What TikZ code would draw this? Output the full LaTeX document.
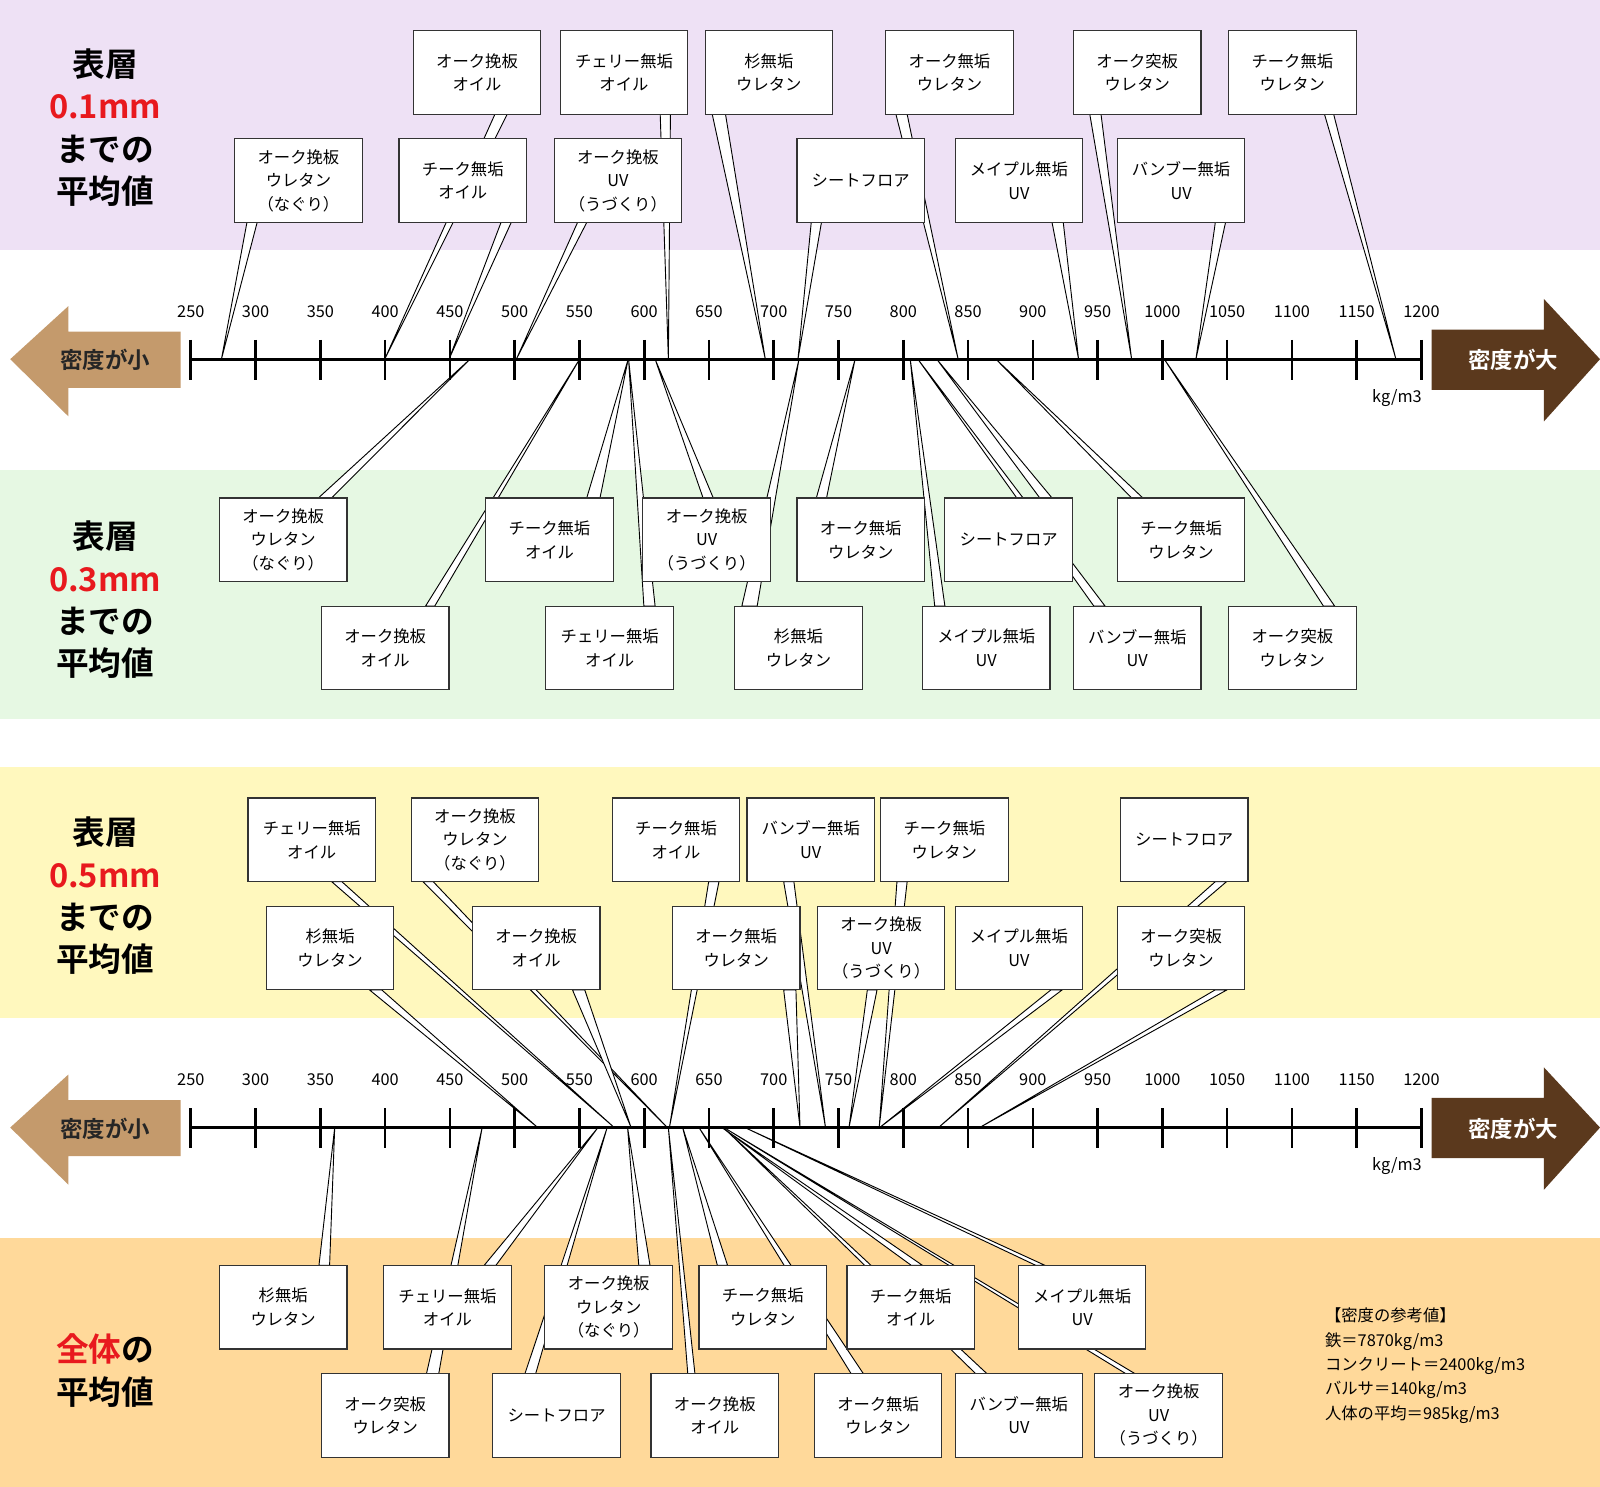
\documentclass[tikz,border=0pt]{standalone}
\usepackage{fontspec}
\setmainfont{Noto Sans CJK JP}[BoldFont={Noto Sans CJK JP Bold}]
\definecolor{bpurple}{HTML}{EEE1F5}
\definecolor{bgreen}{HTML}{E6F8E3}
\definecolor{byellow}{HTML}{FFF8BE}
\definecolor{borange}{HTML}{FFD99A}
\definecolor{tan}{HTML}{C49A6C}
\definecolor{dbrown}{HTML}{5B391D}
\definecolor{tred}{HTML}{E8191E}
\begin{document}
\begin{tikzpicture}[x=1pt,y=-1pt,
  box/.style={draw=black!80,fill=white,line width=1.1pt,minimum width=125pt,minimum height=82pt,inner sep=0pt,align=center,font=\fontsize{16}{23}\selectfont},
  wedge/.style={draw=black,fill=white,line width=0.9pt,line join=miter},
  title/.style={align=center,font=\bfseries\fontsize{32}{41.5}\selectfont},
  num/.style={font=\fontsize{16}{18}\selectfont},
  arrtxt/.style={font=\bfseries\fontsize{22}{24}\selectfont}]
\useasboundingbox (0,0) rectangle (1568,1457);
% bands
\fill[bpurple] (0,0) rectangle (1568,245);
\fill[bgreen] (0,461) rectangle (1568,705);
\fill[byellow] (0,752) rectangle (1568,998);
\fill[borange] (0,1213) rectangle (1568,1457);
% callout macro
\newcommand\co[9]{%
  \coordinate (#1t) at (#7,#8);
  \filldraw[wedge] (#4,#6) -- (#1t) -- (#5,#6) -- cycle;
  \node[box] (#1) at ({#2+62.5},{#3+41}) {#9};}
% ---- section 1
\co{A1}{405}{30}{485}{497}{112}{377}{352}{オーク挽板\\オイル}
\co{A2}{549}{30}{647}{657}{112}{655}{352}{チェリー無垢\\オイル}
\co{A3}{691}{30}{698}{711}{112}{750}{352}{杉無垢\\ウレタン}
\co{A4}{868}{30}{878}{889}{112}{939}{352}{オーク無垢\\ウレタン}
\co{A5}{1052}{30}{1068}{1079}{112}{1109}{352}{オーク突板\\ウレタン}
\co{A6}{1204}{30}{1298}{1307}{112}{1368}{352}{チーク無垢\\ウレタン}
\co{B1}{230}{136}{242}{252}{218}{217}{352}{オーク挽板\\ウレタン\\（なぐり）}
\co{B2}{391}{136}{491}{501}{218}{440}{352}{チーク無垢\\オイル}
\co{B3}{543}{136}{566}{575}{218}{506}{352}{オーク挽板\\UV\\（うづくり）}
\co{B4}{781}{136}{795}{805}{218}{782}{352}{シートフロア}
\co{B5}{936}{136}{1031}{1042}{218}{1057}{352}{メイプル無垢\\UV}
\co{B6}{1095}{136}{1191}{1201}{218}{1172}{352}{バンブー無垢\\UV}
% ---- section 2
\co{D1}{315}{594}{417}{426}{594}{568}{352}{オーク挽板\\オイル}
\co{D2}{535}{594}{631}{642}{594}{616}{352}{チェリー無垢\\オイル}
\co{D3}{720}{594}{727}{742}{594}{783}{352}{杉無垢\\ウレタン}
\co{D4}{904}{594}{916}{926}{594}{892}{352}{メイプル無垢\\UV}
\co{D5}{1052}{594}{1072}{1083}{594}{899.5}{352}{バンブー無垢\\UV}
\co{D6}{1204}{594}{1297}{1308}{594}{1141}{352}{オーク突板\\ウレタン}
\co{C1}{215}{488}{312}{325}{488}{460.6}{352}{オーク挽板\\ウレタン\\（なぐり）}
\co{C2}{476}{488}{575}{588}{488}{615.6}{352}{チーク無垢\\オイル}
\co{C3}{630}{488}{689}{699}{488}{642}{352}{オーク挽板\\UV\\（うづくり）}
\co{C4}{781}{488}{800}{810}{488}{838}{352}{オーク無垢\\ウレタン}
\co{C5}{926}{488}{1019}{1031}{488}{918}{352}{シートフロア}
\co{C6}{1095}{488}{1109}{1120}{488}{976}{352}{チーク無垢\\ウレタン}
% ---- section 3
\co{E1}{243}{782}{325}{335}{864}{602}{1105}{チェリー無垢\\オイル}
\co{E2}{403}{782}{414.5}{424.5}{864}{654}{1105}{オーク挽板\\ウレタン\\（なぐり）}
\co{E3}{600}{782}{694.5}{704.6}{864}{656}{1105}{チーク無垢\\オイル}
\co{E4}{732}{782}{768}{778}{864}{809}{1105}{バンブー無垢\\UV}
\co{E5}{863}{782}{879}{889}{864}{861.6}{1105}{チーク無垢\\ウレタン}
\co{E6}{1098}{782}{1191}{1202}{864}{919.7}{1105}{シートフロア}
\co{F1}{261}{888}{362}{374}{970}{527}{1105}{杉無垢\\ウレタン}
\co{F2}{463}{888}{561}{573}{970}{618.5}{1105}{オーク挽板\\オイル}
\co{F3}{659}{888}{768}{780}{970}{784}{1105}{オーク無垢\\ウレタン}
\co{F4}{801}{888}{850}{859.5}{970}{832}{1105}{オーク挽板\\UV\\（うづくり）}
\co{F5}{936}{888}{1030}{1041}{970}{862}{1105}{メイプル無垢\\UV}
\co{F6}{1095}{888}{1191}{1202.5}{970}{960}{1105}{オーク突板\\ウレタン}
% ---- section 4
\co{H1}{315}{1346}{418}{430}{1346}{472.5}{1105}{オーク突板\\ウレタン}
\co{H2}{483}{1346}{514.5}{525}{1346}{595}{1105}{シートフロア}
\co{H3}{638}{1346}{674}{681}{1346}{655}{1105}{オーク挽板\\オイル}
\co{H4}{798}{1346}{834}{846}{1346}{685}{1105}{オーク無垢\\ウレタン}
\co{H5}{936}{1346}{956}{967}{1346}{709}{1105}{バンブー無垢\\UV}
\co{H6}{1073}{1346}{1103}{1112}{1346}{709.5}{1105}{オーク挽板\\UV\\（うづくり）}
\co{G1}{215}{1240}{312.6}{323}{1240}{328}{1105}{杉無垢\\ウレタン}
\co{G2}{376}{1240}{474.5}{486}{1240}{586}{1105}{チェリー無垢\\オイル}
\co{G3}{534}{1240}{626}{637}{1240}{615}{1105}{オーク挽板\\ウレタン\\（なぐり）}
\co{G4}{685}{1240}{703}{713}{1240}{669}{1105}{チーク無垢\\ウレタン}
\co{G5}{830}{1240}{893}{904}{1240}{707.5}{1105}{チーク無垢\\オイル}
\co{G6}{998}{1240}{1015}{1024}{1240}{730}{1105}{メイプル無垢\\UV}
% ---- axes
\newcommand\axisrow[2]{%
  \draw[line width=3pt] (187,#1) -- (1393,#1);
  \foreach \k in {0,...,19}{
    \draw[line width=2.6pt] ({187+\k*63.474},{#1-19}) -- ({187+\k*63.474},{#1+20});
    \pgfmathtruncatemacro\v{250+50*\k}
    \node[num] at ({187+\k*63.474},{#1-47}) {\v};}
  \node[num] (kg#2) at (1369,{#1+38}) {kg/m3};
  \fill[tan] (10,#1) -- (67,{#1-52}) -- (67,{#1-27}) -- (177,{#1-27}) -- (177,{#1+28}) -- (67,{#1+28}) -- (67,{#1+56}) -- cycle;
  \node[arrtxt,text=black!85] (l#2) at (103,{#1+1}) {密度が小};
  \fill[dbrown] (1403,{#1-29}) -- (1513,{#1-29}) -- (1513,{#1-59}) -- (1568,#1) -- (1513,{#1+61}) -- (1513,{#1+30}) -- (1403,{#1+30}) -- cycle;
  \node[arrtxt,text=white] (r#2) at (1483,{#1+1}) {密度が大};}
\axisrow{352}{a}
\axisrow{1105}{b}
% titles
\node[title] (t1) at (103,125) {表層\\\textcolor{tred}{0.1mm}\\までの\\平均値};
\node[title] (t2) at (103,588) {表層\\\textcolor{tred}{0.3mm}\\までの\\平均値};
\node[title] (t3) at (103,878) {表層\\\textcolor{tred}{0.5mm}\\までの\\平均値};
\node[title] (t4) at (103,1343) {\textcolor{tred}{全体}の\\平均値};
\node[align=left,anchor=north west,font=\fontsize{16}{24}\selectfont] (ref) at (1295,1278)
 {【密度の参考値】\\鉄＝7870kg/m3\\コンクリート＝2400kg/m3\\バルサ＝140kg/m3\\人体の平均＝985kg/m3};
\end{tikzpicture}
\end{document}
